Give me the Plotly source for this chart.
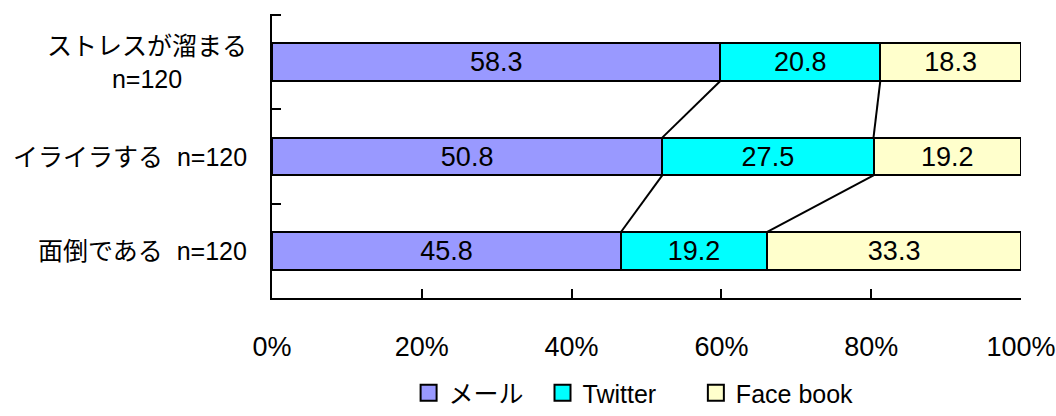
import plotly.graph_objects as go

# Survey rows (top to bottom) and the share answering each medium
categories = ["ストレスが溜まる", "イライラする", "面倒である"]
row_labels = ["ストレスが溜まる<br>n=120", "イライラする  n=120", "面倒である  n=120"]
series_names = ["メール", "Twitter", "Face book"]
mail = [58.3, 50.8, 45.8]
twitter = [20.8, 27.5, 19.2]
facebook = [18.3, 19.2, 33.3]
series_values = [mail, twitter, facebook]
series_colors = ["#9999FF", "#00FFFF", "#FFFFCC"]
x_ticks = [0, 20, 40, 60, 80, 100]

FONT = "Liberation Sans, Arial, Noto Sans CJK JP, sans-serif"
BAR_W = 0.4
NBSP = "\u00a0"
legend_pad = [2, 5, 0]

fig = go.Figure()
for name, vals, col in zip(series_names, series_values, series_colors):
    fig.add_trace(go.Bar(
        y=categories, x=vals, name=name, orientation="h",
        width=BAR_W, showlegend=False,
        marker=dict(color=col, line=dict(color="black", width=2)),
        text=[f"{v:.1f}" for v in vals], texttemplate="%{text}",
        textposition="inside", insidetextanchor="middle",
        textfont=dict(color="black", size=27, family=FONT),
        constraintext="none", hoverinfo="skip",
    ))

# Legend entries with square swatches
for name, col, pad in zip(series_names, series_colors, legend_pad):
    fig.add_trace(go.Scatter(
        x=[None], y=[None], mode="markers", name=name + NBSP * pad,
        marker=dict(symbol="square", size=16, color=col,
                    line=dict(color="black", width=2)),
        showlegend=True, hoverinfo="skip",
    ))

# Series lines joining the segment boundaries of neighbouring bars
totals = [sum(s[i] for s in series_values) for i in range(len(categories))]
cum = []
for i in range(len(categories)):
    run, edges = 0.0, []
    for s in series_values[:-1]:
        run += s[i]
        edges.append(100.0 * run / totals[i])
    cum.append(edges)
for i in range(len(categories) - 1):
    for k in range(len(series_values) - 1):
        fig.add_shape(type="line", xref="x", yref="y",
                      x0=cum[i][k], y0=i + BAR_W / 2,
                      x1=cum[i + 1][k], y1=i + 1 - BAR_W / 2,
                      line=dict(color="black", width=2))

# Tick at the top end of the category axis
fig.add_shape(type="line", xref="x", yref="y",
              x0=0, x1=1.2, y0=-0.5, y1=-0.5,
              line=dict(color="black", width=2))

# Row labels, centred line by line
for i, lab in enumerate(row_labels):
    fig.add_annotation(text=lab, xref="paper", yref="y", x=-0.031, y=i,
                       xanchor="right", yanchor="middle", align="center",
                       showarrow=False,
                       font=dict(size=25, color="black", family=FONT))

fig.update_layout(
    barmode="stack", barnorm="percent",
    width=1056, height=416,
    margin=dict(l=272, r=35, t=14, b=118, autoexpand=False),
    paper_bgcolor="white", plot_bgcolor="white",
    font=dict(family=FONT, color="black"),
    showlegend=True,
    legend=dict(orientation="h", x=0.6, xanchor="center",
                y=-0.014, yanchor="bottom", yref="container", xref="container",
                traceorder="normal",
                font=dict(size=25, color="black", family=FONT),
                itemsizing="trace"),
    xaxis=dict(range=[0, 100], tickvals=x_ticks,
               ticktext=[f"{t}%" for t in x_ticks],
               ticks="inside", ticklen=9, tickwidth=2, tickcolor="black",
               showline=True, linecolor="black", linewidth=2,
               showgrid=False, zeroline=False, automargin=False,
               tickfont=dict(size=27, color="black", family=FONT),
               ticklabelstandoff=24, fixedrange=True),
    yaxis=dict(type="category", categoryorder="array", categoryarray=categories,
               autorange="reversed", showticklabels=False,
               ticks="inside", tickson="boundaries", ticklen=9, tickwidth=2,
               tickcolor="black", showline=True, linecolor="black", linewidth=2,
               showgrid=False, zeroline=False, automargin=False,
               fixedrange=True),
)

fig.write_html("out.html")
